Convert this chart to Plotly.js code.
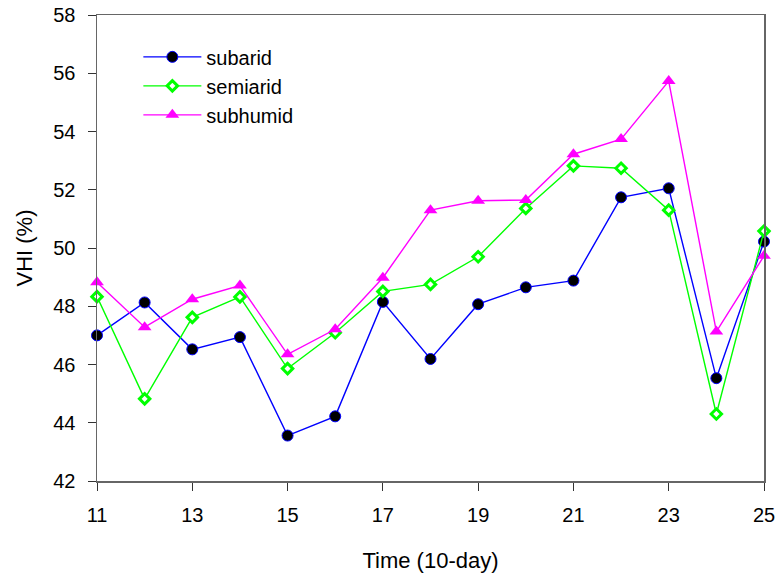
<!DOCTYPE html>
<html>
<head>
<meta charset="utf-8">
<script src="https://cdn.plot.ly/plotly-3.0.1.min.js"></script>
<style>html,body{margin:0;padding:0;background:#fff;}#chart{width:778px;height:576px;}</style>
</head>
<body>
<div id="chart"></div>
<script>
const time = [11, 12, 13, 14, 15, 16, 17, 18, 19, 20, 21, 22, 23, 24, 25];
const subarid = [47.0, 48.13, 46.52, 46.94, 43.56, 44.22, 48.15, 46.19, 48.07, 48.65, 48.88, 51.74, 52.05, 45.53, 50.22];
const semiarid = [48.33, 44.82, 47.62, 48.32, 45.86, 47.09, 48.51, 48.75, 49.70, 51.36, 52.82, 52.74, 51.30, 44.30, 50.58];
const subhumid = [48.82, 47.28, 48.24, 48.71, 46.35, 47.21, 48.98, 51.30, 51.62, 51.65, 53.22, 53.74, 55.73, 47.13, 49.73];
const xTicks = [11, 13, 15, 17, 19, 21, 23, 25];
const yTicks = [42, 44, 46, 48, 50, 52, 54, 56, 58];

const traces = [
  {x: time, y: subarid, name: 'subarid', mode: 'lines+markers', cliponaxis: false,
   line: {color: '#0000ff', width: 1.4},
   marker: {symbol: 'circle', size: 11, color: '#000000', line: {color: '#0000ff', width: 1}}},
  {x: time, y: semiarid, name: 'semiarid', mode: 'lines+markers', cliponaxis: false,
   line: {color: '#00ff00', width: 1.4},
   marker: {symbol: 'diamond', size: 8, color: '#ffffff', line: {color: '#00ff00', width: 3}}},
  {x: time, y: subhumid, name: 'subhumid', mode: 'lines+markers', cliponaxis: false,
   line: {color: '#ff00ff', width: 1.4},
   marker: {symbol: 'triangle-up', size: 12, color: '#ff00ff', line: {width: 0}}}
];

const layout = {
  width: 778, height: 576,
  margin: {l: 97, r: 14, t: 15, b: 95},
  paper_bgcolor: '#ffffff', plot_bgcolor: '#ffffff',
  font: {family: 'Liberation Sans, Arial, sans-serif', size: 20, color: '#000'},
  showlegend: true,
  legend: {x: 0.062, y: 0.952, xanchor: 'left', yanchor: 'top', bgcolor: 'rgba(0,0,0,0)',
           font: {size: 20}, itemwidth: 58, tracegroupgap: 0},
  xaxis: {range: [11, 25], tickvals: xTicks, ticktext: xTicks.map(String),
          showgrid: false, zeroline: false, showline: true, mirror: true,
          linecolor: '#666666', linewidth: 1.5, ticks: 'outside', ticklen: 8, tickcolor: '#333',
          ticklabelstandoff: 7,
          tickfont: {size: 20}, title: {text: 'Time (10-day)', font: {size: 22}, standoff: 28}},
  yaxis: {range: [42, 58], tickvals: yTicks, ticktext: yTicks.map(String),
          showgrid: false, zeroline: false, showline: true, mirror: true,
          linecolor: '#666666', linewidth: 1.5, ticks: 'outside', ticklen: 8, tickcolor: '#333',
          ticklabelstandoff: 8,
          tickfont: {size: 20}, title: {text: 'VHI (%)', font: {size: 22}, standoff: 14}}
};

Plotly.newPlot('chart', traces, layout, {displayModeBar: false, staticPlot: true});
</script>
</body>
</html>
